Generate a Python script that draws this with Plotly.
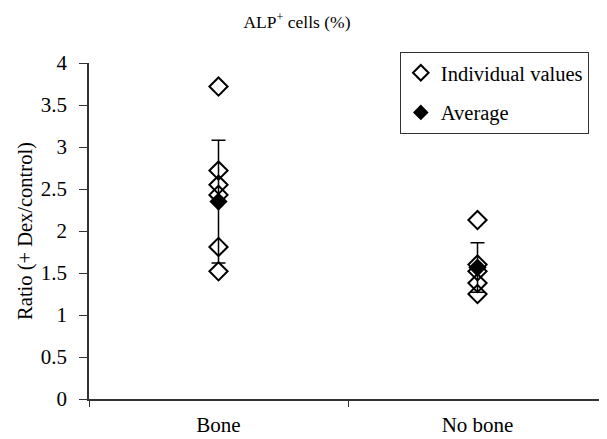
import plotly.graph_objects as go

categories = ["Bone", "No bone"]
bone_values = [3.72, 2.72, 2.55, 2.43, 1.81, 1.52]
nobone_values = [2.13, 1.60, 1.52, 1.38, 1.25]
averages = [2.35, 1.565]
errors = [0.73, 0.295]
yticks = [0, 0.5, 1, 1.5, 2, 2.5, 3, 3.5, 4]

FONT = "Liberation Serif"

fig = go.Figure()
fig.add_trace(go.Scatter(
    x=[categories[0]] * len(bone_values) + [categories[1]] * len(nobone_values),
    y=bone_values + nobone_values,
    mode="markers",
    name="Individual values",
    legendgroup="a",
    marker=dict(symbol="diamond-open", size=14, color="black", line=dict(width=2, color="black")),
))
fig.add_trace(go.Scatter(
    x=categories,
    y=averages,
    mode="markers",
    name="Average",
    legendgroup="b",
    marker=dict(symbol="diamond", size=14, color="black"),
    error_y=dict(type="data", array=errors, visible=True, color="black", thickness=1.5, width=7),
))

fig.update_layout(
    width=599, height=431,
    margin=dict(l=81, r=0, t=55, b=40),
    paper_bgcolor="white", plot_bgcolor="white",
    font=dict(family=FONT, size=21, color="black"),
    title=dict(text="ALP<sup>+</sup> cells (%)", x=289 / 599, xanchor="center", y=1 - 14 / 431, yanchor="middle",
               font=dict(family=FONT, size=17.5, color="black")),
    showlegend=True,
    legend=dict(x=0.6, y=1.033, xanchor="left", yanchor="top", bgcolor="white",
                bordercolor="#333", borderwidth=1, font=dict(family=FONT, size=20.5, color="black"),
                itemsizing="constant", traceorder="grouped", tracegroupgap=10, itemwidth=30),
    xaxis=dict(type="category", range=[-0.5, 1.5], showline=True, linecolor="#333", linewidth=1.5,
               ticks="outside", tickson="boundaries", ticklen=6, tickcolor="#333", showgrid=False,
               zeroline=False, tickfont=dict(size=21), ticklabelstandoff=6),
    yaxis=dict(range=[0, 4], tickvals=yticks, ticktext=[f"{v:g}" for v in yticks], showline=True,
               linecolor="#333", linewidth=1.5, ticks="outside", ticklen=8, tickcolor="#333",
               showgrid=False, zeroline=False, tickfont=dict(size=21), ticklabelstandoff=8,
               title=dict(text="Ratio (+ Dex/control)", standoff=3,
                          font=dict(family=FONT, size=20.5, color="black"))),
)

fig.write_html("out.html")
